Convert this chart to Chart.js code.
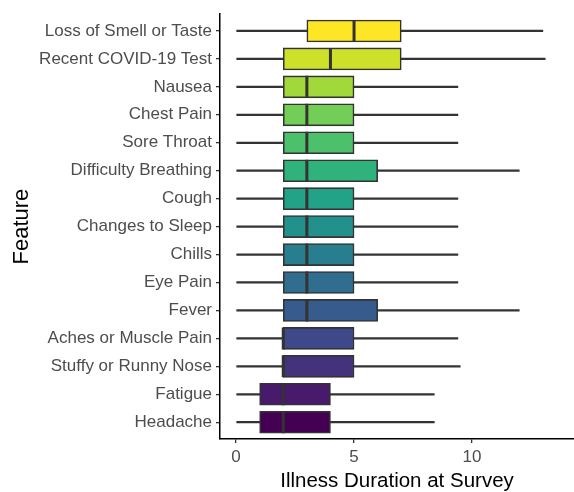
<!DOCTYPE html>
<html>
<head>
<meta charset="utf-8">
<script src="https://cdn.jsdelivr.net/npm/chart.js@4"></script>
<style>html,body{margin:0;padding:0;background:#fff;}canvas{display:block;}</style>
</head>
<body>
<canvas id="c" width="574" height="492"></canvas>
<script>
const categories = [
  "Loss of Smell or Taste", "Recent COVID-19 Test", "Nausea", "Chest Pain", "Sore Throat",
  "Difficulty Breathing", "Cough", "Changes to Sleep", "Chills", "Eye Pain", "Fever",
  "Aches or Muscle Pain", "Stuffy or Runny Nose", "Fatigue", "Headache"
];
const whiskerLow  = [0, 0, 0, 0, 0, 0, 0, 0, 0, 0, 0, 0, 0, 0, 0];
const quartile1   = [3, 2, 2, 2, 2, 2, 2, 2, 2, 2, 2, 2, 2, 1, 1];
const medians     = [5, 4, 3, 3, 3, 3, 3, 3, 3, 3, 3, 2, 2, 2, 2];
const quartile3   = [7, 7, 5, 5, 5, 6, 5, 5, 5, 5, 6, 5, 5, 4, 4];
const whiskerHigh = [13.0, 13.1, 9.4, 9.4, 9.4, 12.0, 9.4, 9.4, 9.4, 9.4, 12.0, 9.4, 9.5, 8.4, 8.4];
const boxColors = [
  "#fde725", "#cee12a", "#a0d939", "#72ce56", "#4dc06b", "#30b27c", "#22a287", "#22908b",
  "#287e8e", "#2f6e8e", "#375b8c", "#3f4888", "#45327d", "#471a6b", "#440154"
];
const xTickValues = [0, 5, 10];
const xTitle = "Illness Duration at Survey";
const yTitle = "Feature";

const FONT = "'Liberation Sans', Arial, Helvetica, sans-serif";
const idx = categories.map((_, i) => i);
const axisGrid = { display: true, drawOnChartArea: false, drawTicks: true, tickLength: 4, color: '#333333', lineWidth: 1.3, offset: false };
const axisBorder = { display: true, color: '#000000', width: 1.5 };

new Chart(document.getElementById('c'), {
  data: {
    datasets: [
      {
        type: 'scatter', label: 'median',
        data: idx.map(i => ({ x: medians[i], y: i })),
        pointStyle: 'line', rotation: 90, radius: 11, hoverRadius: 11,
        borderColor: '#333333', borderWidth: 3, order: 0
      },
      {
        type: 'bar', label: 'box', indexAxis: 'y',
        data: idx.map(i => ({ y: i, x: [quartile1[i], quartile3[i]] })),
        backgroundColor: boxColors, borderColor: '#333333', borderWidth: 1.6,
        borderSkipped: false, barThickness: 22, grouped: false, order: 1
      },
      {
        type: 'bar', label: 'whisker', indexAxis: 'y',
        data: idx.map(i => ({ y: i, x: [whiskerLow[i], whiskerHigh[i]] })),
        backgroundColor: '#333333', borderWidth: 0,
        barThickness: 1.6, grouped: false, order: 2
      }
    ]
  },
  options: {
    responsive: false,
    animation: false,
    events: [],
    devicePixelRatio: 1,
    layout: { autoPadding: false, padding: { top: 10, left: 0, right: 0, bottom: 0 } },
    plugins: { legend: { display: false }, tooltip: { enabled: false } },
    scales: {
      x: {
        type: 'linear', position: 'bottom', min: -0.68, max: 14.32, offset: false,
        afterBuildTicks: s => { s.ticks = xTickValues.map(v => ({ value: v })); },
        afterFit: s => { s.height = 53; },
        grid: axisGrid, border: axisBorder,
        ticks: { color: '#4d4d4d', font: { family: FONT, size: 17 }, padding: 4, maxRotation: 0, autoSkip: false },
        title: { display: true, text: xTitle, color: '#000000', font: { family: FONT, size: 20.5, lineHeight: 1 }, padding: 0 }
      },
      y: {
        type: 'linear', position: 'left', reverse: true, min: -0.6, max: 14.6, offset: false,
        afterBuildTicks: s => { s.ticks = idx.map(v => ({ value: v })); },
        afterFit: s => { s.width = 220; },
        grid: axisGrid, border: axisBorder,
        ticks: { color: '#4d4d4d', font: { family: FONT, size: 17 }, padding: 4, autoSkip: false,
                 callback: v => categories[v] },
        title: { display: true, text: yTitle, color: '#000000', font: { family: FONT, size: 22, lineHeight: 1.2 }, padding: { top: 9, bottom: 0 } }
      }
    }
  }
});
</script>
</body>
</html>
